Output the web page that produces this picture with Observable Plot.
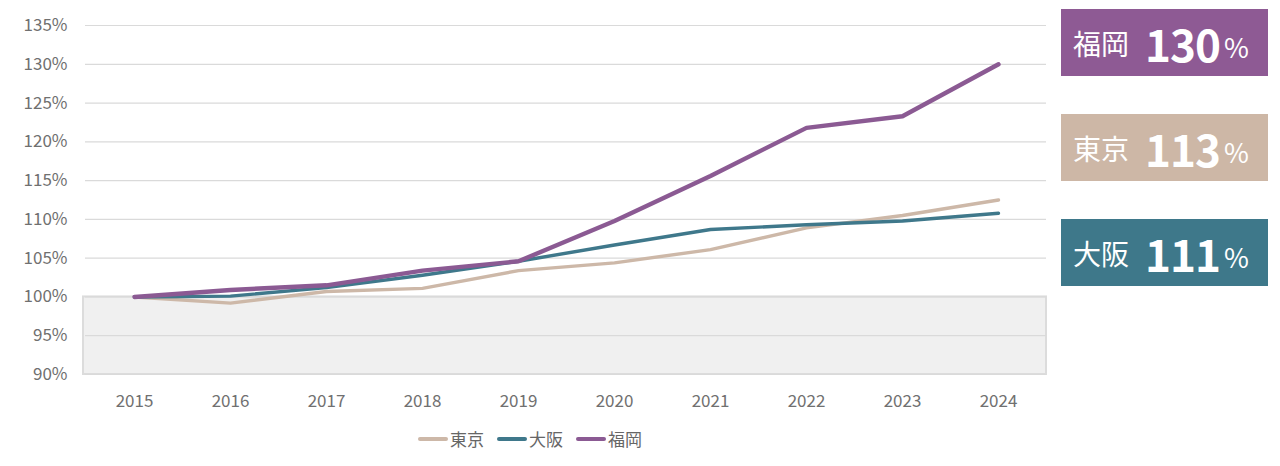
<!DOCTYPE html>
<html>
<head>
<meta charset="utf-8">
<script src="https://cdn.jsdelivr.net/npm/d3@7"></script>
<script src="https://cdn.jsdelivr.net/npm/@observablehq/plot@0.6"></script>
<style>
  body { margin: 0; background: #fff; font-family: "Noto Sans CJK JP", "Noto Sans", sans-serif; }
  #wrap { position: relative; width: 1280px; height: 466px; }
  #chart { position: absolute; left: 0; top: 0; }
  .box { position: absolute; left: 1061px; width: 207px; height: 67px; color: #fff; display: flex; align-items: center; padding-left: 12px; box-sizing: border-box; white-space: nowrap; }
  .box .name { font-size: 28px; margin-right: 16px; }
  .box .num { font-size: 44px; font-weight: 700; letter-spacing: -1px; }
  .box .pct { font-size: 27px; margin-left: 4px; margin-top: 8px; }
  #legend { position: absolute; left: 418px; top: 426px; display: flex; align-items: center; font-size: 17px; color: #666; }
  #legend .item { display: flex; align-items: center; margin-right: 13px; }
  #legend .sw { width: 30px; height: 4px; margin-right: 2px; border-radius: 2px; }
</style>
</head>
<body>
<div id="wrap">
  <div id="chart"></div>
  <div id="boxes"></div>
  <div id="legend"></div>
</div>
<script>
const years = [2015, 2016, 2017, 2018, 2019, 2020, 2021, 2022, 2023, 2024];
const cities = ["東京", "大阪", "福岡"];
const tokyo   = [100, 99.2, 100.7, 101.1, 103.4, 104.4, 106.1, 108.9, 110.5, 112.5];
const osaka   = [100, 100.1, 101.2, 102.8, 104.6, 106.7, 108.7, 109.3, 109.8, 110.8];
const fukuoka = [100, 100.9, 101.5, 103.4, 104.6, 109.8, 115.6, 121.8, 123.3, 130.0];
const colors = ["#cdb8a8", "#3f788b", "#8b5a93"];
const yTicks = [90, 95, 100, 105, 110, 115, 120, 125, 130, 135];
const boxLabels = [
  {city: "福岡", value: "130", color: "#8e5a94", top: 9},
  {city: "東京", value: "113", color: "#cdb7a6", top: 114},
  {city: "大阪", value: "111", color: "#3e788a", top: 219}
];

const series = [tokyo, osaka, fukuoka];
const rows = [];
series.forEach((vals, i) => vals.forEach((v, j) => rows.push({city: cities[i], year: years[j], value: v})));

const chart = Plot.plot({
  width: 1055,
  height: 420,
  marginLeft: 85,
  marginRight: 9,
  marginTop: 25,
  marginBottom: 46,
  style: { fontFamily: "'Noto Sans CJK JP', 'Noto Sans', sans-serif", fontSize: "17px", color: "#707070" },
  x: { type: "point", domain: years, padding: 0.5, label: null, tickSize: 0, tickPadding: 20, tickFormat: d => String(d) },
  y: { domain: [90, 135], ticks: yTicks, label: null, tickSize: 0, tickPadding: 18, tickFormat: d => d + "%" },
  color: { domain: cities, range: colors },
  marks: [
    Plot.rectY([{y1: 90, y2: 100}], {x1: () => years[0], x2: () => years[years.length - 1], y1: "y1", y2: "y2", fill: "#f0f0f0", insetLeft: -51, insetRight: -48, stroke: "#dcdcdc", strokeWidth: 2}),
    Plot.gridY(yTicks, { stroke: "#dadada", strokeOpacity: 1, strokeWidth: 1.2 }),
    Plot.line(rows.filter(d => d.city !== "福岡"), { x: "year", y: "value", z: "city", stroke: "city", strokeWidth: 3.4, strokeLinejoin: "round", strokeLinecap: "round" }),
    Plot.line(rows.filter(d => d.city === "福岡"), { x: "year", y: "value", stroke: "city", strokeWidth: 4.4, strokeLinejoin: "round", strokeLinecap: "round" })
  ]
});
document.getElementById("chart").appendChild(chart);

const boxes = document.getElementById("boxes");
boxLabels.forEach(b => {
  const d = document.createElement("div");
  d.className = "box";
  d.style.top = b.top + "px";
  d.style.background = b.color;
  d.innerHTML = `<span class="name">${b.city}</span><span class="num">${b.value}</span><span class="pct">%</span>`;
  boxes.appendChild(d);
});

const legend = document.getElementById("legend");
cities.forEach((c, i) => {
  const it = document.createElement("div");
  it.className = "item";
  it.innerHTML = `<span class="sw" style="background:${colors[i]}"></span><span>${c}</span>`;
  legend.appendChild(it);
});
</script>
</body>
</html>
